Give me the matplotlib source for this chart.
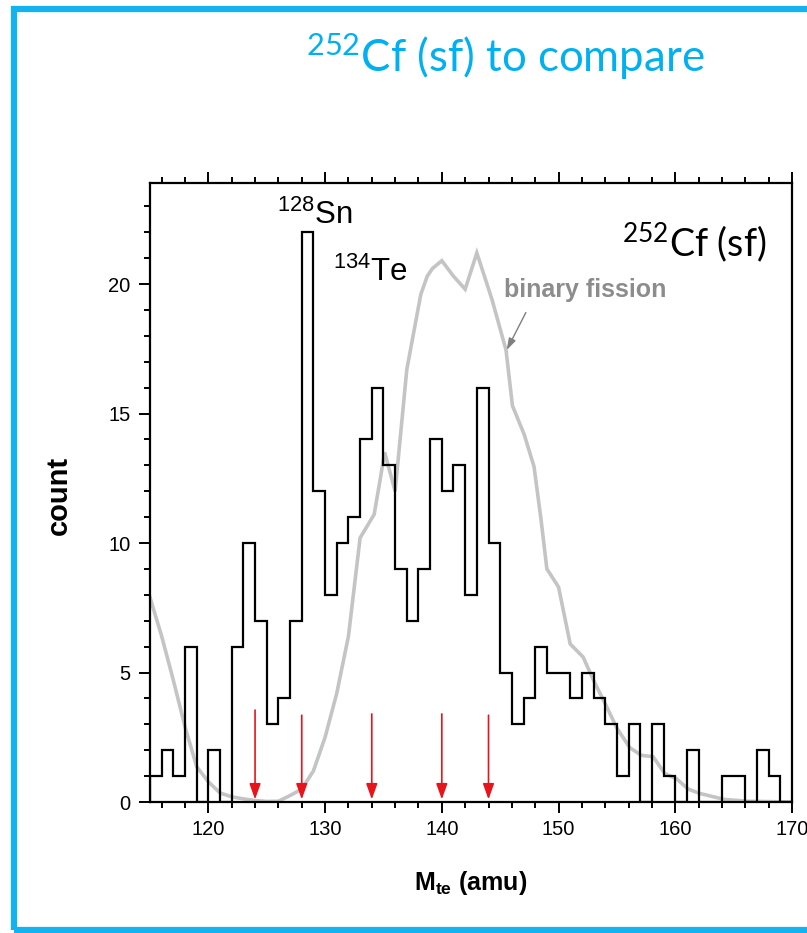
import numpy as np
import matplotlib
matplotlib.use("Agg")
import matplotlib.pyplot as plt
from matplotlib.ticker import MultipleLocator
from matplotlib.patches import Rectangle

plt.rcParams['font.family'] = ['Liberation Sans', 'DejaVu Sans']

# histogram of M_te, 1 amu bins from 115 to 170
bin_edges = np.arange(115, 171, 1)
counts = [1, 2, 1, 6, 0, 2, 0, 6, 10, 7,
          3, 4, 7, 22, 12, 8, 10, 11, 14, 16,
          13, 9, 7, 9, 14, 12, 13, 8, 16, 10,
          5, 3, 4, 6, 5, 5, 4, 5, 4, 3,
          1, 3, 0, 3, 1, 0, 2, 0, 0, 1,
          1, 0, 2, 1, 0]

# binary fission yield curve (grey)
bf_x = [115, 116, 117, 118, 119, 120, 121, 122, 123, 124, 125, 126, 127, 128,
        129, 130, 131, 132, 133, 134.2, 134.7, 135.1, 136, 137, 138.2, 138.75,
        139.2, 140, 141, 142, 143, 144.3, 145.5, 146.05, 147.05, 147.9, 148.5,
        149, 150, 151, 152.1, 153.1, 154.1, 155, 156.1, 157.1, 158.1, 159.1,
        160.1, 161.1, 162.1, 164.2, 166.1, 170]
bf_y = [7.9, 6.4, 4.7, 2.9, 1.36, 0.78, 0.35, 0.2, 0.12, 0.06, 0.02, 0.03, 0.25, 0.5,
        1.2, 2.5, 4.2, 6.4, 10.2, 11.1, 12.4, 13.5, 12.0, 16.7, 19.6, 20.3,
        20.6, 20.9, 20.3, 19.8, 21.2, 19.4, 17.45, 15.3, 14.2, 12.95, 10.9,
        9.0, 8.3, 6.1, 5.6, 4.6, 3.7, 2.85, 2.1, 1.8, 1.75, 1.1,
        0.9, 0.5, 0.33, 0.1, 0.03, 0.0]

# red arrow positions (amu)
arrow_x = [124, 128, 134, 140, 144]
arrow_top = [3.55, 3.35, 3.4, 3.4, 3.35]

W, H = 807, 933
fig = plt.figure(figsize=(W / 100, H / 100), dpi=100)
ax = fig.add_axes([150 / W, 1 - 802 / H, (792 - 150) / W, (802 - 183) / H])

ax.plot(bf_x, bf_y, color='#c4c4c4', lw=2.6, solid_joinstyle='miter', zorder=2)
ax.stairs(counts, bin_edges, color='black', lw=1.6, baseline=0, zorder=3)

for xa, ya in zip(arrow_x, arrow_top):
    ax.annotate('', xy=(xa, 0.1), xytext=(xa, ya),
                arrowprops=dict(arrowstyle='-|>,head_length=0.95,head_width=0.34',
                                color='#e8141b', lw=1.2, shrinkA=0, shrinkB=0),
                zorder=4)

ax.set_xlim(115, 170)
ax.set_ylim(0, 23.9)
ax.set_xticks(np.arange(120, 171, 10))
ax.xaxis.set_minor_locator(MultipleLocator(2))
ax.set_yticks([0, 5, 10, 15, 20])
ax.yaxis.set_minor_locator(MultipleLocator(1))
ax.tick_params(which='both', direction='out', top=True, right=False, width=1.4,
               labelsize=14.5, colors='black')
ax.tick_params(axis='x', which='major', length=8, pad=5)
ax.tick_params(axis='x', which='minor', length=4.5)
ax.tick_params(axis='y', which='major', length=8, pad=6)
ax.tick_params(axis='y', which='minor', length=4.5)
for s in ax.spines.values():
    s.set_linewidth(1.6)

# labels inside the plot
ax.text(125.9, 22.3, r'$\mathregular{^{128}}$Sn', fontsize=22.5, ha='left', va='baseline')
ax.text(130.7, 20.1, r'$\mathregular{^{134}}$Te', fontsize=22.5, ha='left', va='baseline')
ax.text(145.3, 19.5, 'binary fission', fontsize=18, fontweight='bold', color='#8c8c8c',
        ha='left', va='baseline')
ax.annotate('', xy=(145.56, 17.45), xytext=(147.2, 18.9),
            arrowprops=dict(arrowstyle='-|>,head_length=0.7,head_width=0.22',
                            color='#7f7f7f', lw=1.0, shrinkA=0, shrinkB=0))
ax.text(167.8, 21.1, r'$\mathregular{^{252}}$Cf (sf)', fontsize=27, family='Lato',
        ha='right', va='baseline')

fig.text(59 / W, 1 - 495 / H, 'count', rotation=90, fontsize=21, fontweight='bold',
         ha='center', va='center')
fig.text(471 / W, 1 - 890 / H, r'$\mathregular{M_{te}}$ (amu)', fontsize=18,
         fontweight='bold', ha='center', va='baseline')

# title and blue frame
fig.text(505 / W, 1 - 72 / H, r'$\mathregular{^{252}}$Cf (sf) to compare', fontsize=31.5,
         family='Lato', color='#00b0f0', ha='center', va='baseline')
fig.patches.append(Rectangle((14 / W, 1 - 929.5 / H), 830 / W, (929.5 - 8.5) / H,
                             transform=fig.transFigure, fill=False,
                             edgecolor='#12b3ef', lw=4.5, clip_on=False))

fig.savefig('out.png', dpi=100)
